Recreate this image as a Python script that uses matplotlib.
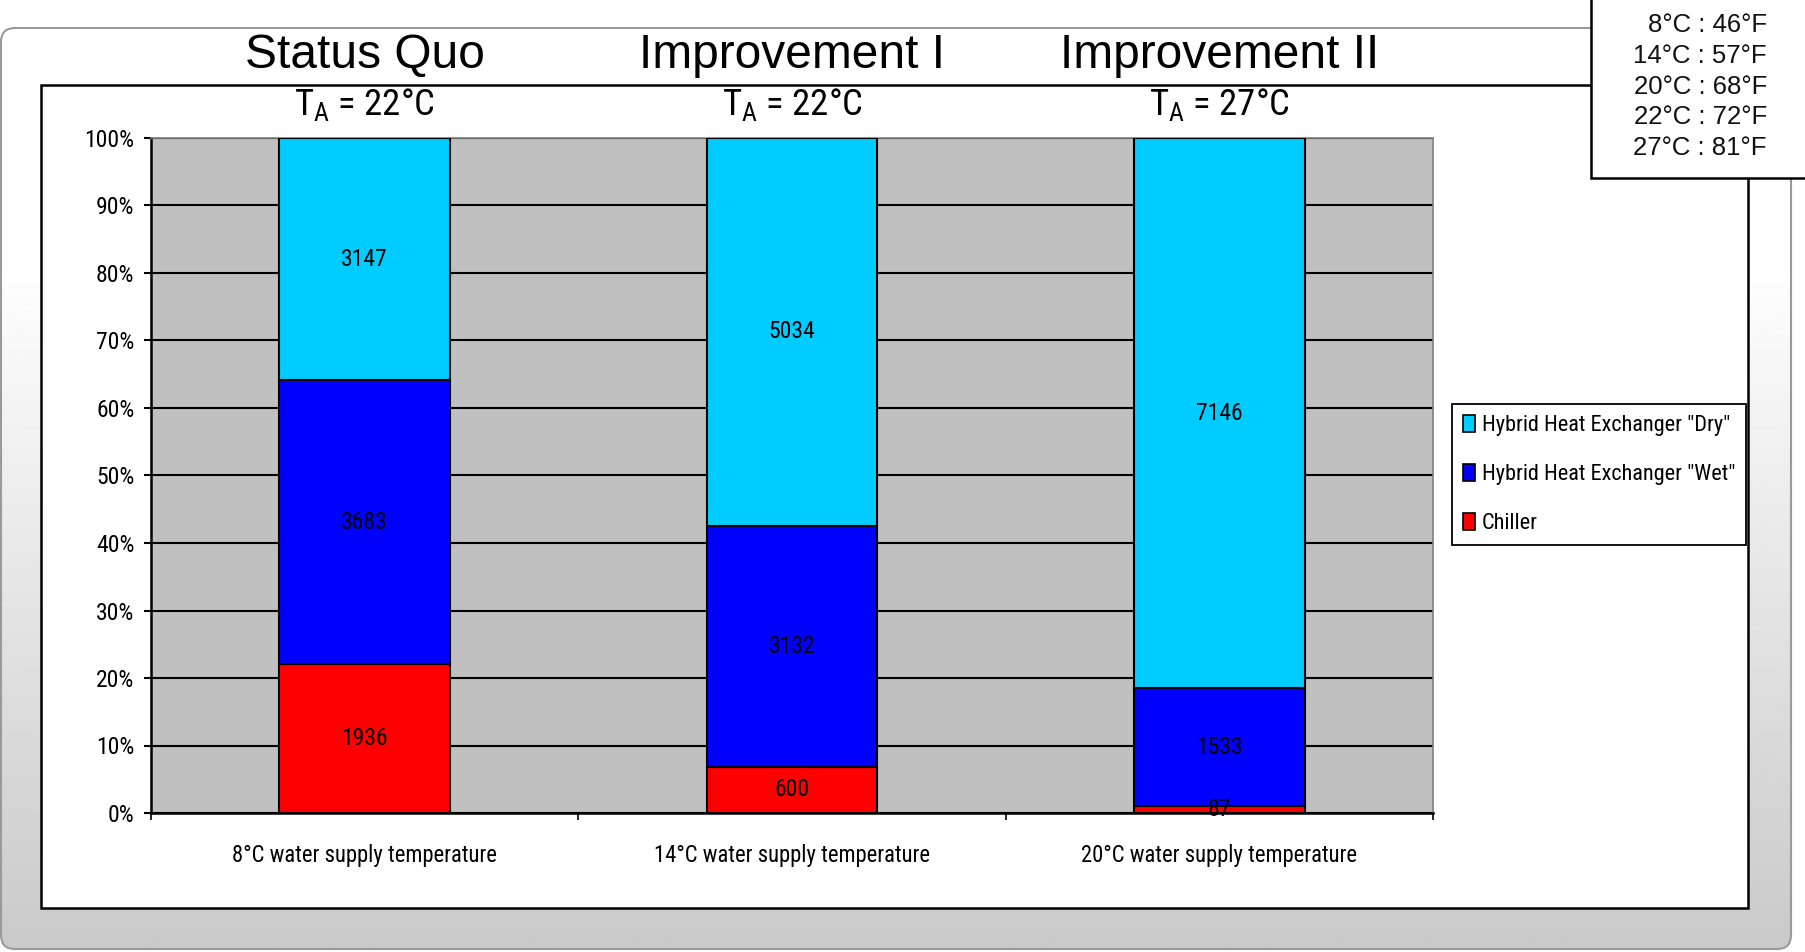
import numpy as np
import matplotlib
matplotlib.use('Agg')
import matplotlib.pyplot as plt
import matplotlib.transforms as mtransforms
from matplotlib import font_manager
from matplotlib.colors import LinearSegmentedColormap
from matplotlib.patches import FancyBboxPatch, Rectangle, Patch

# --- data ---
scenarios = ['Status Quo', 'Improvement I', 'Improvement II']
ambient = ['22°C', '22°C', '27°C']
categories = ['8°C water supply temperature',
              '14°C water supply temperature',
              '20°C water supply temperature']
chiller = [1936, 600, 87]
wet = [3683, 3132, 1533]
dry = [3147, 5034, 7146]
conversions = ['8°C : 46°F', '14°C : 57°F', '20°C : 68°F', '22°C : 72°F', '27°C : 81°F']

series_names = ['Hybrid Heat Exchanger "Dry"', 'Hybrid Heat Exchanger "Wet"', 'Chiller']
series_colors = ['#00ccff', '#0000ff', '#ff0000']

# pick a narrow face for the chart texts
fonts = font_manager.fontManager.ttflist
names = {f.name for f in fonts}
narrow_family, narrow_stretch = 'Liberation Sans', 'normal'
for cand in ['Liberation Sans Narrow', 'Arial Narrow', 'Roboto Condensed', 'Open Sans Condensed']:
    if cand in names:
        narrow_family = cand
        break
else:
    if any(f.name == 'DejaVu Sans' and f.stretch == 'condensed' for f in fonts):
        narrow_family, narrow_stretch = 'DejaVu Sans', 'condensed'
NF = dict(family=narrow_family, stretch=narrow_stretch)

plt.rcParams['font.family'] = 'Liberation Sans'
plt.rcParams['mathtext.fontset'] = 'custom'
plt.rcParams['mathtext.rm'] = f'{narrow_family}:stretch={narrow_stretch}'
plt.rcParams['mathtext.it'] = f'{narrow_family}:stretch={narrow_stretch}'

W, H = 1806, 952
fig = plt.figure(figsize=(W / 100, H / 100), dpi=100)

# --- slide background panel with soft gradient ---
bg = fig.add_axes([0, 0, 1, 1])
bg.set_xlim(0, W)
bg.set_ylim(H, 0)
bg.axis('off')
panel = FancyBboxPatch((1, 28), 1790, 921, boxstyle='round,pad=0,rounding_size=14',
                       fc='none', ec='#9a9a9a', lw=1.5, zorder=2)
bg.add_patch(panel)
t = np.linspace(0, 1, 400)
shade = 1 - 0.21 * np.clip((t - 0.25) / 0.75, 0, 1)
grad = np.repeat(shade[:, None], 2, axis=1)
cmap = LinearSegmentedColormap.from_list('g', ['black', 'white'])
im = bg.imshow(grad, extent=(1, 1791, 949, 28), cmap=cmap, vmin=0, vmax=1,
               aspect='auto', zorder=1)
im.set_clip_path(panel)

# white chart area
bg.add_patch(Rectangle((41, 85), 1707, 823, fc='white', ec='black', lw=1.8, zorder=3))

# temperature conversion box
bg.add_patch(Rectangle((1591, -5), 240, 183, fc='white', ec='black', lw=1.8, zorder=4))
for i, s in enumerate(conversions):
    bg.text(1767, 25 + i * 30.8, s, ha='right', va='center', fontsize=18.5,
            color='#111111', zorder=5)

# --- stacked 100% bars ---
ax = fig.add_axes([151 / W, 1 - 813 / H, 1282 / W, 675 / H])
ax.set_facecolor('#c0c0c0')

x = np.arange(len(categories))
chiller = np.array(chiller)
wet = np.array(wet)
dry = np.array(dry)
total = chiller + wet + dry
p_ch = chiller / total * 100
p_wet = wet / total * 100
p_dry = dry / total * 100

bw = 0.4
ax.bar(x, p_ch, bw, color=series_colors[2], edgecolor='black', lw=1.5, zorder=3)
ax.bar(x, p_wet, bw, bottom=p_ch, color=series_colors[1], edgecolor='black', lw=1.5, zorder=3)
ax.bar(x, p_dry, bw, bottom=p_ch + p_wet, color=series_colors[0], edgecolor='black', lw=1.5, zorder=3)

for i in range(len(x)):
    ax.text(x[i], p_ch[i] / 2, str(chiller[i]), ha='center', va='center',
            fontsize=17, zorder=4, **NF)
    ax.text(x[i], p_ch[i] + p_wet[i] / 2, str(wet[i]), ha='center', va='center',
            fontsize=17, zorder=4, **NF)
    ax.text(x[i], p_ch[i] + p_wet[i] + p_dry[i] / 2, str(dry[i]), ha='center', va='center',
            fontsize=17, zorder=4, **NF)

ax.set_xlim(-0.5, 2.5)
ax.set_ylim(0, 100)
ax.set_yticks(np.arange(0, 101, 10))
ax.set_yticklabels([f'{v}%' for v in range(0, 101, 10)], fontsize=17, **NF)
ax.set_xticks(x)
ax.set_xticklabels(categories, fontsize=16.3, **NF)
ax.set_xticks([-0.5, 0.5, 1.5, 2.5], minor=True)
ax.tick_params(axis='x', which='major', length=0, pad=22)
ax.tick_params(axis='x', which='minor', length=5, width=1.2, direction='out')
ax.tick_params(axis='y', length=5, width=1.5, direction='out', pad=7)
ax.yaxis.grid(True, color='black', lw=1.5)
ax.set_axisbelow(True)
for side in ['left', 'bottom']:
    ax.spines[side].set_color('black')
    ax.spines[side].set_linewidth(1.8)
for side in ['top', 'right']:
    ax.spines[side].set_color('#808080')
    ax.spines[side].set_linewidth(1.2)

# scenario headings above each bar
trans = mtransforms.blended_transform_factory(ax.transData, fig.transFigure)
for i in range(len(x)):
    ax.text(x[i], 1 - 68 / H, scenarios[i], transform=trans, ha='center', va='baseline',
            fontsize=34.5, clip_on=False)
    ax.text(x[i], 1 - 115 / H, r'$\mathregular{T_A}$ = ' + ambient[i], transform=trans,
            ha='center', va='baseline', fontsize=26.5, clip_on=False, **NF)

handles = [Patch(facecolor=c, edgecolor='black', lw=1.2) for c in series_colors]
leg = fig.legend(handles, series_names, loc='upper left',
                 bbox_to_anchor=(1452 / W, 1 - 404 / H), borderaxespad=0,
                 prop=font_manager.FontProperties(size=16, **NF),
                 handlelength=0.55, handleheight=0.8,
                 handletextpad=0.3, labelspacing=1.25, borderpad=0.5,
                 fancybox=False, framealpha=1, edgecolor='black')
leg.get_frame().set_linewidth(1.3)

fig.savefig('out.png', dpi=100)
